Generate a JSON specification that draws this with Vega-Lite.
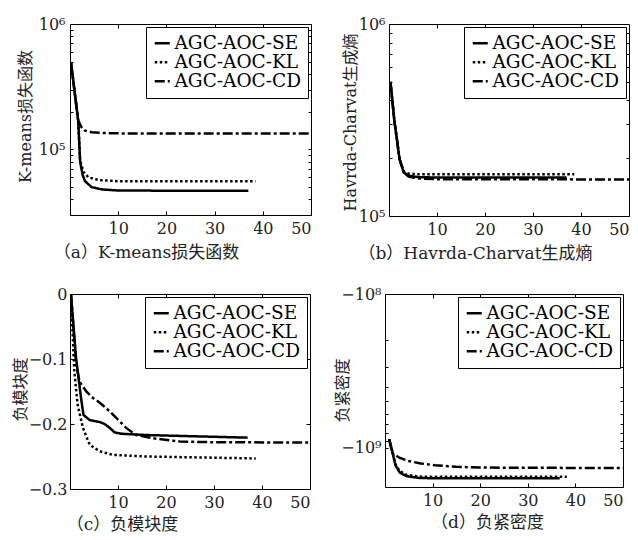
{
 "$schema": "https://vega.github.io/schema/vega-lite/v6.json",
 "padding": {"left": 11, "top": 15, "right": 0, "bottom": 0},
 "config": {
  "view": {"stroke": "black", "strokeWidth": 1},
  "axis": {"labelFont": "DejaVu Serif", "labelFontSize": 16, "labelColor": "#222", "titleFont": "DejaVu Serif, Noto Sans CJK SC", "titleFontSize": 16, "titleFontWeight": "normal", "titleColor": "#222", "domain": false, "tickColor": "black", "grid": false, "tickSize": -4},
  "axisX": {"titleBaseline": "middle", "titleAlign": "center", "titleFontSize": 17, "labelPadding": 9},
  "axisY": {"titleBaseline": "middle", "titleAlign": "center", "titleAngle": 270},
  "legend": {"orient": "top-right", "offset": 3, "strokeColor": "black", "fillColor": "white", "padding": 7, "labelFont": "DejaVu Serif", "labelFontSize": 18.5, "labelColor": "black", "symbolType": "stroke", "symbolSize": 225, "symbolStrokeWidth": 2.5, "symbolStrokeColor": "black", "rowPadding": -5, "labelOffset": 3}
 },
 "datasets": {
  "a": [
   {"s": "AGC-AOC-SE", "x": 0.2, "y": 495000}, {"s": "AGC-AOC-SE", "x": 1.7, "y": 170000}, {"s": "AGC-AOC-SE", "x": 2.1, "y": 80000}, {"s": "AGC-AOC-SE", "x": 2.6, "y": 63000}, {"s": "AGC-AOC-SE", "x": 3.1, "y": 56000}, {"s": "AGC-AOC-SE", "x": 4.5, "y": 50000}, {"s": "AGC-AOC-SE", "x": 6.6, "y": 48000}, {"s": "AGC-AOC-SE", "x": 10, "y": 47000}, {"s": "AGC-AOC-SE", "x": 20, "y": 46900}, {"s": "AGC-AOC-SE", "x": 37, "y": 46900},
   {"s": "AGC-AOC-KL", "x": 0.2, "y": 495000}, {"s": "AGC-AOC-KL", "x": 1.7, "y": 170000}, {"s": "AGC-AOC-KL", "x": 2.1, "y": 82000}, {"s": "AGC-AOC-KL", "x": 2.8, "y": 66000}, {"s": "AGC-AOC-KL", "x": 3.8, "y": 60000}, {"s": "AGC-AOC-KL", "x": 5.9, "y": 57000}, {"s": "AGC-AOC-KL", "x": 10, "y": 55800}, {"s": "AGC-AOC-KL", "x": 38.5, "y": 55700},
   {"s": "AGC-AOC-CD", "x": 0.2, "y": 495000}, {"s": "AGC-AOC-CD", "x": 1.7, "y": 170000}, {"s": "AGC-AOC-CD", "x": 2.3, "y": 152000}, {"s": "AGC-AOC-CD", "x": 3.1, "y": 141000}, {"s": "AGC-AOC-CD", "x": 4.5, "y": 137000}, {"s": "AGC-AOC-CD", "x": 7, "y": 135000}, {"s": "AGC-AOC-CD", "x": 12, "y": 134000}, {"s": "AGC-AOC-CD", "x": 50, "y": 134000}
  ],
  "b": [
   {"s": "AGC-AOC-SE", "x": 0.3, "y": 500000}, {"s": "AGC-AOC-SE", "x": 1.1, "y": 316000}, {"s": "AGC-AOC-SE", "x": 2.2, "y": 198000}, {"s": "AGC-AOC-SE", "x": 3.1, "y": 168000}, {"s": "AGC-AOC-SE", "x": 4.2, "y": 162000}, {"s": "AGC-AOC-SE", "x": 6, "y": 159500}, {"s": "AGC-AOC-SE", "x": 10, "y": 158500}, {"s": "AGC-AOC-SE", "x": 37, "y": 158500},
   {"s": "AGC-AOC-KL", "x": 0.3, "y": 500000}, {"s": "AGC-AOC-KL", "x": 1.1, "y": 316000}, {"s": "AGC-AOC-KL", "x": 2.2, "y": 198000}, {"s": "AGC-AOC-KL", "x": 3.1, "y": 170000}, {"s": "AGC-AOC-KL", "x": 4.2, "y": 166000}, {"s": "AGC-AOC-KL", "x": 6, "y": 165000}, {"s": "AGC-AOC-KL", "x": 38.6, "y": 165000},
   {"s": "AGC-AOC-CD", "x": 0.3, "y": 500000}, {"s": "AGC-AOC-CD", "x": 1.1, "y": 316000}, {"s": "AGC-AOC-CD", "x": 2.2, "y": 198000}, {"s": "AGC-AOC-CD", "x": 3.1, "y": 167000}, {"s": "AGC-AOC-CD", "x": 4.2, "y": 160000}, {"s": "AGC-AOC-CD", "x": 6, "y": 157000}, {"s": "AGC-AOC-CD", "x": 10, "y": 155500}, {"s": "AGC-AOC-CD", "x": 50, "y": 155000}
  ],
  "c": [
   {"s": "AGC-AOC-SE", "x": 0.2, "y": 0}, {"s": "AGC-AOC-SE", "x": 1.26, "y": -0.0986}, {"s": "AGC-AOC-SE", "x": 2.3, "y": -0.16}, {"s": "AGC-AOC-SE", "x": 2.8, "y": -0.186}, {"s": "AGC-AOC-SE", "x": 4.1, "y": -0.194}, {"s": "AGC-AOC-SE", "x": 6.2, "y": -0.197}, {"s": "AGC-AOC-SE", "x": 7.2, "y": -0.2}, {"s": "AGC-AOC-SE", "x": 8.3, "y": -0.206}, {"s": "AGC-AOC-SE", "x": 9.3, "y": -0.213}, {"s": "AGC-AOC-SE", "x": 10.7, "y": -0.215}, {"s": "AGC-AOC-SE", "x": 16, "y": -0.217}, {"s": "AGC-AOC-SE", "x": 26.4, "y": -0.219}, {"s": "AGC-AOC-SE", "x": 37, "y": -0.221},
   {"s": "AGC-AOC-KL", "x": 0.2, "y": 0}, {"s": "AGC-AOC-KL", "x": 0.9, "y": -0.119}, {"s": "AGC-AOC-KL", "x": 1.6, "y": -0.171}, {"s": "AGC-AOC-KL", "x": 2.7, "y": -0.206}, {"s": "AGC-AOC-KL", "x": 4.1, "y": -0.232}, {"s": "AGC-AOC-KL", "x": 6.2, "y": -0.242}, {"s": "AGC-AOC-KL", "x": 9, "y": -0.2476}, {"s": "AGC-AOC-KL", "x": 16, "y": -0.25}, {"s": "AGC-AOC-KL", "x": 38.7, "y": -0.253},
   {"s": "AGC-AOC-CD", "x": 0.2, "y": 0}, {"s": "AGC-AOC-CD", "x": 1.3, "y": -0.109}, {"s": "AGC-AOC-CD", "x": 2, "y": -0.135}, {"s": "AGC-AOC-CD", "x": 3.4, "y": -0.15}, {"s": "AGC-AOC-CD", "x": 4.8, "y": -0.16}, {"s": "AGC-AOC-CD", "x": 5.8, "y": -0.165}, {"s": "AGC-AOC-CD", "x": 7.6, "y": -0.176}, {"s": "AGC-AOC-CD", "x": 9.7, "y": -0.191}, {"s": "AGC-AOC-CD", "x": 11.7, "y": -0.206}, {"s": "AGC-AOC-CD", "x": 13.8, "y": -0.217}, {"s": "AGC-AOC-CD", "x": 17.3, "y": -0.222}, {"s": "AGC-AOC-CD", "x": 22.9, "y": -0.227}, {"s": "AGC-AOC-CD", "x": 30, "y": -0.228}, {"s": "AGC-AOC-CD", "x": 50, "y": -0.2286}
  ],
  "d": [
   {"s": "AGC-AOC-SE", "x": 0.9, "y": -880000000}, {"s": "AGC-AOC-SE", "x": 1.5, "y": -1050000000}, {"s": "AGC-AOC-SE", "x": 2.2, "y": -1300000000}, {"s": "AGC-AOC-SE", "x": 3.1, "y": -1450000000}, {"s": "AGC-AOC-SE", "x": 4.5, "y": -1530000000}, {"s": "AGC-AOC-SE", "x": 7, "y": -1570000000}, {"s": "AGC-AOC-SE", "x": 10, "y": -1580000000}, {"s": "AGC-AOC-SE", "x": 36.7, "y": -1580000000},
   {"s": "AGC-AOC-KL", "x": 0.9, "y": -880000000}, {"s": "AGC-AOC-KL", "x": 1.5, "y": -1050000000}, {"s": "AGC-AOC-KL", "x": 2.2, "y": -1280000000}, {"s": "AGC-AOC-KL", "x": 3.1, "y": -1420000000}, {"s": "AGC-AOC-KL", "x": 4.5, "y": -1500000000}, {"s": "AGC-AOC-KL", "x": 7, "y": -1540000000}, {"s": "AGC-AOC-KL", "x": 10, "y": -1545000000}, {"s": "AGC-AOC-KL", "x": 38.2, "y": -1545000000},
   {"s": "AGC-AOC-CD", "x": 0.9, "y": -880000000}, {"s": "AGC-AOC-CD", "x": 1.5, "y": -1078000000}, {"s": "AGC-AOC-CD", "x": 3, "y": -1160000000}, {"s": "AGC-AOC-CD", "x": 5, "y": -1220000000}, {"s": "AGC-AOC-CD", "x": 7.5, "y": -1265000000}, {"s": "AGC-AOC-CD", "x": 10.5, "y": -1300000000}, {"s": "AGC-AOC-CD", "x": 15, "y": -1330000000}, {"s": "AGC-AOC-CD", "x": 20, "y": -1345000000}, {"s": "AGC-AOC-CD", "x": 30, "y": -1350000000}, {"s": "AGC-AOC-CD", "x": 50, "y": -1355000000}
  ]
 },
 "columns": 1,
 "align": "none",
 "spacing": 23,
 "resolve": {"scale": {"x": "independent", "y": "independent"}, "legend": {"strokeDash": "independent"}},
 "concat": [
  {
   "spacing": 29,
   "resolve": {"scale": {"x": "independent", "y": "independent"}, "legend": {"strokeDash": "independent"}},
   "hconcat": [
    {
     "width": 241, "height": 191,
     "data": {"name": "a"},
     "layer": [
      {
       "mark": {"type": "line", "color": "black", "strokeWidth": 2.5, "clip": true},
       "encoding": {
        "x": {"field": "x", "type": "quantitative", "scale": {"domain": [0, 50], "nice": false}, "axis": {"values": [10, 20, 30, 40, 50], "title": "（a）K-means损失函数", "titleX": 76, "titleY": 37}},
        "y": {"field": "y", "type": "quantitative", "scale": {"type": "log", "domain": [30000, 1000000], "nice": false}, "axis": {"values": [30000, 40000, 50000, 60000, 70000, 80000, 90000, 100000, 200000, 300000, 400000, 500000, 600000, 700000, 800000, 900000, 1000000], "labelExpr": "datum.value == 100000 ? '10⁵' : datum.value == 1000000 ? '10⁶' : ''", "tickSize": -3, "labelPadding": 8, "title": "K-means损失函数", "titleX": -45, "titleY": 92}},
        "strokeDash": {"field": "s", "type": "nominal", "scale": {"domain": ["AGC-AOC-SE", "AGC-AOC-KL", "AGC-AOC-CD"], "range": [[1, 0], [2.5, 2.5], [10, 3, 3, 3]]}, "legend": {"title": null}}
       }
      },
      {
       "mark": {"type": "line", "opacity": 0},
       "encoding": {
        "x": {"field": "x", "type": "quantitative", "axis": {"orient": "top", "values": [10, 20, 30, 40], "labels": false, "title": null}},
        "y": {"field": "y", "type": "quantitative", "axis": {"orient": "right", "values": [30000, 40000, 50000, 60000, 70000, 80000, 90000, 100000, 200000, 300000, 400000, 500000, 600000, 700000, 800000, 900000], "labels": false, "title": null, "tickSize": -3}}
       }
      }
     ],
     "resolve": {"axis": {"x": "independent", "y": "independent"}}
    },
    {
     "width": 240, "height": 192,
     "data": {"name": "b"},
     "layer": [
      {
       "mark": {"type": "line", "color": "black", "strokeWidth": 2.5, "clip": true},
       "encoding": {
        "x": {"field": "x", "type": "quantitative", "scale": {"domain": [0, 50], "nice": false}, "axis": {"values": [10, 20, 30, 40, 50], "title": "（b）Havrda-Charvat生成熵", "titleX": 86, "titleY": 37}},
        "y": {"field": "y", "type": "quantitative", "scale": {"type": "log", "domain": [100000, 1000000], "nice": false}, "axis": {"values": [100000, 200000, 300000, 400000, 500000, 600000, 700000, 800000, 900000, 1000000], "labelExpr": "datum.value == 100000 ? '10⁵' : datum.value == 1000000 ? '10⁶' : ''", "tickSize": -3, "labelPadding": 7, "title": "Havrda-Charvat生成熵", "titleX": -39, "titleY": 98}},
        "strokeDash": {"field": "s", "type": "nominal", "scale": {"domain": ["AGC-AOC-SE", "AGC-AOC-KL", "AGC-AOC-CD"], "range": [[1, 0], [2.5, 2.5], [10, 3, 3, 3]]}, "legend": {"title": null}}
       }
      },
      {
       "mark": {"type": "line", "opacity": 0},
       "encoding": {
        "x": {"field": "x", "type": "quantitative", "axis": {"orient": "top", "values": [10, 20, 30, 40], "labels": false, "title": null}},
        "y": {"field": "y", "type": "quantitative", "axis": {"orient": "right", "values": [200000, 300000, 400000, 500000, 600000, 700000, 800000, 900000], "labels": false, "title": null, "tickSize": -3}}
       }
      }
     ],
     "resolve": {"axis": {"x": "independent", "y": "independent"}}
    }
   ]
  },
  {
   "spacing": 22,
   "resolve": {"scale": {"x": "independent", "y": "independent"}, "legend": {"strokeDash": "independent"}},
   "hconcat": [
    {
     "width": 240, "height": 195,
     "data": {"name": "c"},
     "layer": [
      {
       "mark": {"type": "line", "color": "black", "strokeWidth": 2.5, "clip": true},
       "encoding": {
        "x": {"field": "x", "type": "quantitative", "scale": {"domain": [0, 50], "nice": false}, "axis": {"values": [10, 20, 30, 40, 50], "title": "（c）负模块度", "titleX": 52, "titleY": 35}},
        "y": {"field": "y", "type": "quantitative", "scale": {"domain": [-0.3, 0], "nice": false, "zero": false}, "axis": {"values": [-0.3, -0.2, -0.1, 0], "labelExpr": "datum.value == 0 ? '0' : '−' + format(-datum.value, '.1f')", "labelPadding": 7, "title": "负模块度", "titleX": -50, "titleY": 95}},
        "strokeDash": {"field": "s", "type": "nominal", "scale": {"domain": ["AGC-AOC-SE", "AGC-AOC-KL", "AGC-AOC-CD"], "range": [[1, 0], [2.5, 2.5], [10, 3, 3, 3]]}, "legend": {"title": null}}
       }
      },
      {
       "mark": {"type": "line", "opacity": 0},
       "encoding": {
        "x": {"field": "x", "type": "quantitative", "axis": {"orient": "top", "values": [10, 20, 30, 40], "labels": false, "title": null}},
        "y": {"field": "y", "type": "quantitative", "axis": {"orient": "right", "values": [-0.2, -0.1], "labels": false, "title": null}}
       }
      }
     ],
     "resolve": {"axis": {"x": "independent", "y": "independent"}}
    },
    {
     "width": 238, "height": 193,
     "data": {"name": "d"},
     "layer": [
      {
       "mark": {"type": "line", "color": "black", "strokeWidth": 2.5, "clip": true},
       "encoding": {
        "x": {"field": "x", "type": "quantitative", "scale": {"domain": [0, 50], "nice": false}, "axis": {"values": [10, 20, 30, 40, 50], "title": "（d）负紧密度", "titleX": 102, "titleY": 35}},
        "y": {"field": "y", "type": "quantitative", "scale": {"type": "log", "domain": [-1800000000, -100000000], "nice": false}, "axis": {"values": [-100000000, -200000000, -300000000, -400000000, -500000000, -600000000, -700000000, -800000000, -900000000, -1000000000], "labelExpr": "datum.value == -100000000 ? '−10⁸' : datum.value == -1000000000 ? '−10⁹' : ''", "tickSize": -3, "labelPadding": 7, "title": "负紧密度", "titleX": -43, "titleY": 96}},
        "strokeDash": {"field": "s", "type": "nominal", "scale": {"domain": ["AGC-AOC-SE", "AGC-AOC-KL", "AGC-AOC-CD"], "range": [[1, 0], [2.5, 2.5], [10, 3, 3, 3]]}, "legend": {"title": null}}
       }
      },
      {
       "mark": {"type": "line", "opacity": 0},
       "encoding": {
        "x": {"field": "x", "type": "quantitative", "axis": {"orient": "top", "values": [10, 20, 30, 40], "labels": false, "title": null}},
        "y": {"field": "y", "type": "quantitative", "axis": {"orient": "right", "values": [-200000000, -300000000, -400000000, -500000000, -600000000, -700000000, -800000000, -900000000, -1000000000], "labels": false, "title": null, "tickSize": -3}}
       }
      }
     ],
     "resolve": {"axis": {"x": "independent", "y": "independent"}}
    }
   ]
  }
 ]
}
